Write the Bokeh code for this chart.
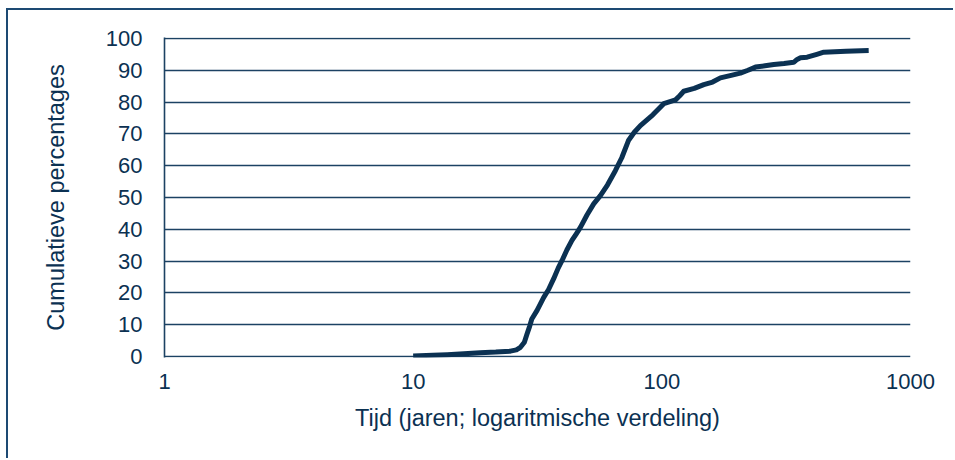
from bokeh.plotting import figure
from bokeh.models import Range1d, FixedTicker, NumeralTickFormatter
from bokeh.embed import file_html
from bokeh.resources import INLINE

# Tijd (jaren) en cumulatieve percentages
tijd = [10.0, 12.0, 13.7, 16.0, 18.6, 21.5, 24.6, 26.0, 27.0, 28.0, 28.7, 29.4, 30.0,
        31.5, 33.5, 35.0, 36.7, 38.3, 39.7, 41.5, 43.5, 45.3, 47.1, 50.0, 53.2,
        56.6, 60.5, 65.1, 69.0, 73.4, 77.5, 82.0, 92.0, 101.8, 113.5, 118.0, 122.5,
        135.0, 147.5, 160.0, 172.0, 190.0, 207.0, 222.0, 238.0, 260.0, 282.0, 310.0,
        339.0, 350.0, 361.0, 384.0, 420.0, 448.0, 550.0, 679.0]
cumulatief = [0.2, 0.4, 0.6, 0.9, 1.2, 1.4, 1.7, 2.1, 2.9, 4.5, 7.1, 9.5, 11.8,
              14.5, 18.6, 21.0, 24.4, 27.8, 30.2, 33.5, 36.5, 38.6, 40.7, 44.5, 48.0,
              50.6, 54.0, 58.5, 62.5, 67.9, 70.5, 72.6, 76.0, 79.5, 80.7, 82.0, 83.4,
              84.3, 85.5, 86.3, 87.6, 88.4, 89.1, 90.0, 91.0, 91.4, 91.8, 92.1,
              92.5, 93.4, 93.9, 94.1, 95.0, 95.7, 96.0, 96.2]

x_ticks = [1, 10, 100, 1000]
y_ticks = [0, 10, 20, 30, 40, 50, 60, 70, 80, 90, 100]

NAVY = "#0b3152"
GRID = "#1c4263"
FONT = "Liberation Sans"

p = figure(width=947, height=450, x_axis_type="log",
           x_range=Range1d(1, 1000), y_range=Range1d(-0.3, 100.3),
           output_backend="svg", toolbar_location=None,
           min_border_left=156, min_border_right=45,
           min_border_top=27, min_border_bottom=103)
p.outline_line_color = None
p.background_fill_color = "white"
p.border_fill_color = "white"
p.styles = {"border-left": "2px solid #1d4a73", "border-top": "2px solid #1d4a73",
            "margin-left": "6px", "margin-top": "8px"}

p.line(tijd, cumulatief, line_color=NAVY, line_width=5, line_join="round", line_cap="butt")

p.xgrid.visible = False
p.ygrid.ticker = FixedTicker(ticks=y_ticks)
p.ygrid.grid_line_color = GRID
p.ygrid.grid_line_width = 1.6

p.xaxis.ticker = FixedTicker(ticks=x_ticks)
p.xaxis.formatter = NumeralTickFormatter(format="0")
p.yaxis.ticker = FixedTicker(ticks=y_ticks)
p.xaxis.minor_tick_line_color = None
p.yaxis.minor_tick_line_color = None
for ax in (p.xaxis, p.yaxis):
    ax.major_tick_in = 0
    ax.major_tick_out = 0
    ax.major_label_text_font = FONT
    ax.major_label_text_font_size = "22px"
    ax.major_label_text_color = NAVY
    ax.axis_label_text_font = FONT
    ax.axis_label_text_font_size = "23.5px"
    ax.axis_label_text_font_style = "normal"
    ax.axis_label_text_color = NAVY
p.xaxis.axis_line_color = None
p.yaxis.axis_line_color = GRID
p.yaxis.axis_line_width = 1.6
p.xaxis.major_label_standoff = 16
p.yaxis.major_label_standoff = 22
p.xaxis.axis_label = "Tijd (jaren; logaritmische verdeling)"
p.yaxis.axis_label = "Cumulatieve percentages"
p.xaxis.axis_label_standoff = 13
p.yaxis.axis_label_standoff = 34

open("out.html", "w").write(file_html(p, INLINE))
